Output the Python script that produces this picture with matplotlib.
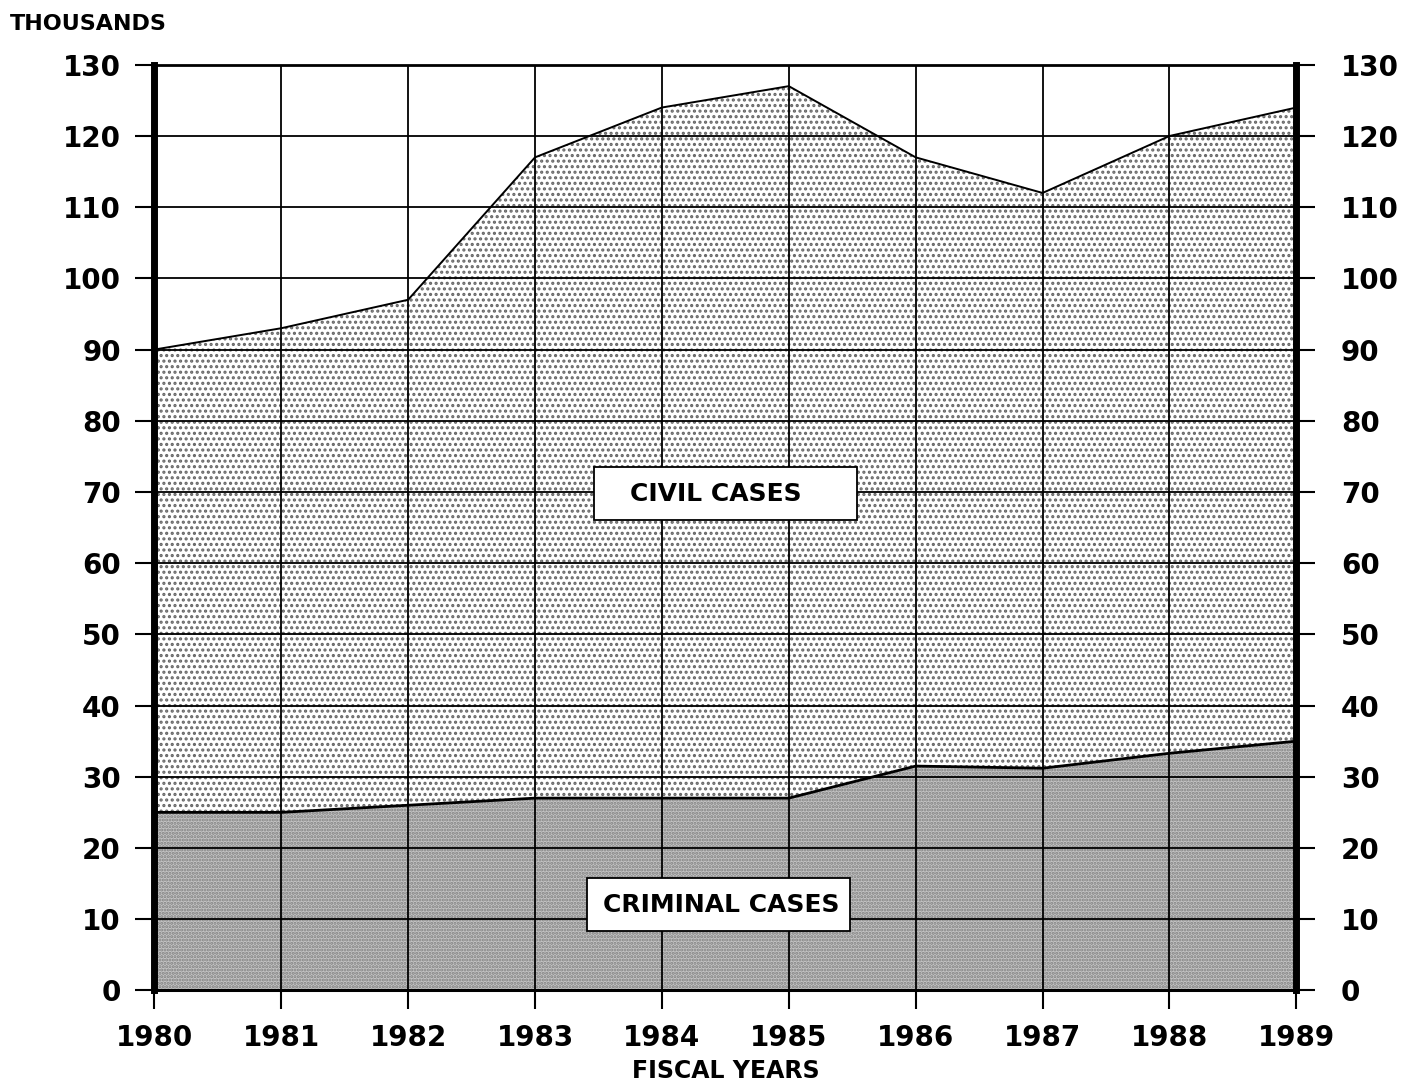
import numpy as np
import matplotlib.pyplot as plt
from matplotlib.patches import Rectangle

plt.rcParams['font.family'] = ['DejaVu Sans']
plt.rcParams['font.weight'] = 'bold'
plt.rcParams['hatch.linewidth'] = 1.5

# caseload data (thousands)
years = [1980, 1981, 1982, 1983, 1984, 1985, 1986, 1987, 1988, 1989]
criminal = [25, 25, 26, 27, 27, 27, 31.5, 31.2, 33.3, 35]
total = [90, 93, 97, 117, 124, 127, 117, 112, 120, 124]   # civil + criminal
yticks = list(range(0, 131, 10))

fig = plt.figure(figsize=(14.03, 10.8), dpi=100)
ax = fig.add_axes([0.110, 0.083, 0.814, 0.857])

# civil cases band (stacked on top of criminal)
ax.fill_between(years, criminal, total, facecolor='white', edgecolor='#666666',
                hatch='...', linewidth=0, zorder=1)
# criminal cases band
ax.fill_between(years, 0, criminal, facecolor='#c4c4c4', edgecolor='#808080',
                hatch='.....', linewidth=0, zorder=1)
ax.plot(years, total, color='black', lw=1.4, zorder=3)
ax.plot(years, criminal, color='black', lw=2.0, zorder=3)

ax.set_xlim(1980, 1989)
ax.set_ylim(0, 130)
ax.set_xticks(years)
ax.set_yticks(yticks)
ax.grid(True, color='black', lw=1.3)
ax.set_axisbelow(False)

for s in ['left', 'right']:
    ax.spines[s].set_linewidth(5)
ax.spines['top'].set_linewidth(2)
ax.spines['bottom'].set_linewidth(2.2)

ax.tick_params(axis='both', direction='out', length=14, width=1.5,
               labelsize=20, pad=8)
ax.tick_params(axis='x', pad=10)
ax.tick_params(axis='y', pad=10)

ax2 = ax.twinx()
ax2.set_ylim(0, 130)
ax2.set_yticks(yticks)
ax2.tick_params(axis='y', direction='out', length=14, width=1.5,
                labelsize=20, pad=18)
for s in ax2.spines.values():
    s.set_visible(False)

for lab in ax.get_xticklabels() + ax.get_yticklabels() + ax2.get_yticklabels():
    lab.set_fontweight('bold')

ax.set_xlabel('FISCAL YEARS', fontsize=17, fontweight='bold', labelpad=5)
fig.text(0.007, 0.978, 'THOUSANDS', fontsize=16, fontweight='bold',
         ha='left', va='center')

# label boxes
for txt, (x0, y0, w, h), tx in [('CIVIL CASES', (0.385, 0.508, 0.230, 0.057), 0.492),
                                 ('CRIMINAL CASES', (0.379, 0.064, 0.230, 0.057), 0.496)]:
    ax.add_patch(Rectangle((x0, y0), w, h, transform=ax.transAxes,
                           facecolor='white', edgecolor='black', lw=1.3, zorder=5))
    ax.text(tx, y0 + h / 2, txt, transform=ax.transAxes, fontsize=18,
            fontweight='bold', ha='center', va='center', zorder=6)

fig.savefig('out.png', dpi=100)
